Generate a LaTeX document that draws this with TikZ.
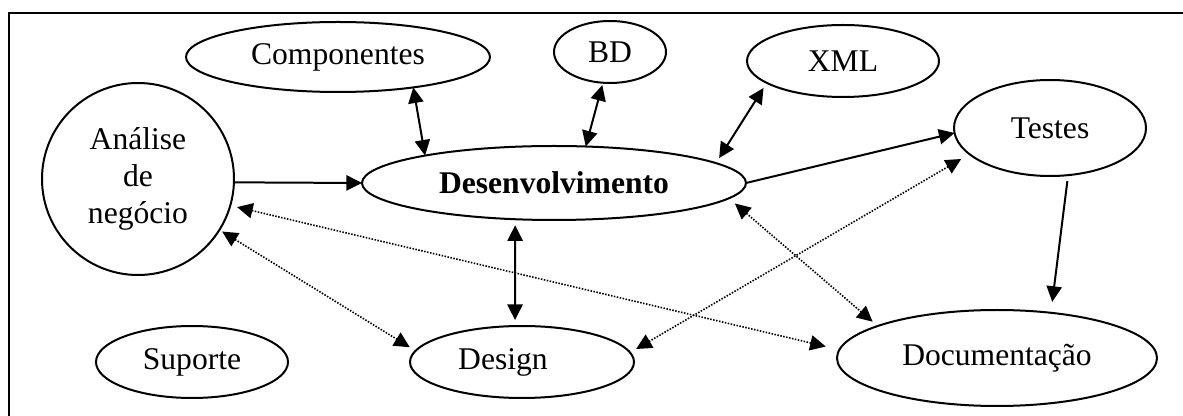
\documentclass[tikz,border=0pt]{standalone}
\usepackage{fontspec}
\setmainfont{Liberation Serif}
\usetikzlibrary{shapes.geometric,arrows.meta}
\begin{document}
\begin{tikzpicture}[x=0.5pt,y=-0.5pt,
  every node/.style={font=\fontsize{15.8pt}{18.5pt}\selectfont},
  el/.style={draw,ellipse,line width=1pt,inner sep=0pt,outer sep=0pt},
  con/.style={line width=1pt},
  dotcon/.style={line width=0.8pt,dash pattern=on 0.75pt off 0.75pt},
  arrowone/.style={-{Triangle[length=7.8pt,width=7.6pt]}},
  arrowtwo/.style={{Triangle[length=7.8pt,width=7.6pt]}-{Triangle[length=7.8pt,width=7.6pt]}}]
\useasboundingbox (0,0) rectangle (1183,416);
\clip (0,0) rectangle (1183,416);
\draw[line width=1pt] (9,13) rectangle (1260,480);

% nodes
\node[el,minimum width=152pt,minimum height=35pt] (comp) at (338,57) {Componentes};
\node[el,minimum width=56pt,minimum height=31pt] (bd) at (610,52) {BD};
\node[el,minimum width=96pt,minimum height=36pt] (xml) at (843,61) {XML};
\node[el,minimum width=96pt,minimum height=48pt] (testes) at (1050,128) {Testes};
\node[draw,circle,line width=1pt,minimum size=96pt,inner sep=0pt,outer sep=0pt,align=center] (ana) at (138,179) {Análise\\de\\negócio};
\node[el,minimum width=192pt,minimum height=37pt] (desen) at (554,183) {\bfseries Desenvolvimento};
\node[el,minimum width=96pt,minimum height=36pt] (sup) at (192,362) {Suporte};
\node[el,minimum width=112pt,minimum height=36pt] (design) at (522,362) {\hspace*{-19pt}Design};
\node[el,minimum width=160pt,minimum height=48pt] (doc) at (997,358) {Documentação};

% solid connectors
\draw[con,arrowone] (ana.-2) -- (desen.west);
\draw[con,arrowtwo] (comp.-22.4) -- (desen.168.3);
\draw[con,arrowtwo,shorten <=1.2pt] (bd.-103.6) -- (desen.49.6);
\draw[con,arrowtwo,shorten <=3pt,shorten >=3pt] (xml.-164.2) -- (desen.7.6);
\draw[con,arrowone] (desen.east) -- (testes.183);
\draw[con,arrowone,shorten <=3pt,shorten >=5.5pt] (testes.-69.3) -- (doc.40.7);
\draw[con,arrowtwo,shorten <=3pt,shorten >=3pt] (desen.-137.3) -- (design.101);

% dotted connectors
\draw[dotcon,arrowtwo,shorten <=4pt,shorten >=3.3pt] (desen.-5.7) -- (doc.165.2);
\draw[dotcon,arrowtwo,shorten <=3.5pt,shorten >=7pt] (ana.-16) -- (doc.177.6);
\draw[dotcon,arrowtwo,shorten <=1.6pt,shorten >=3.4pt] (ana.-32.3) -- (design.174.5);
\draw[dotcon,arrowtwo,shorten <=4.8pt,shorten >=3.5pt] (testes.-162.9) -- (design.5.6);
\end{tikzpicture}
\end{document}
